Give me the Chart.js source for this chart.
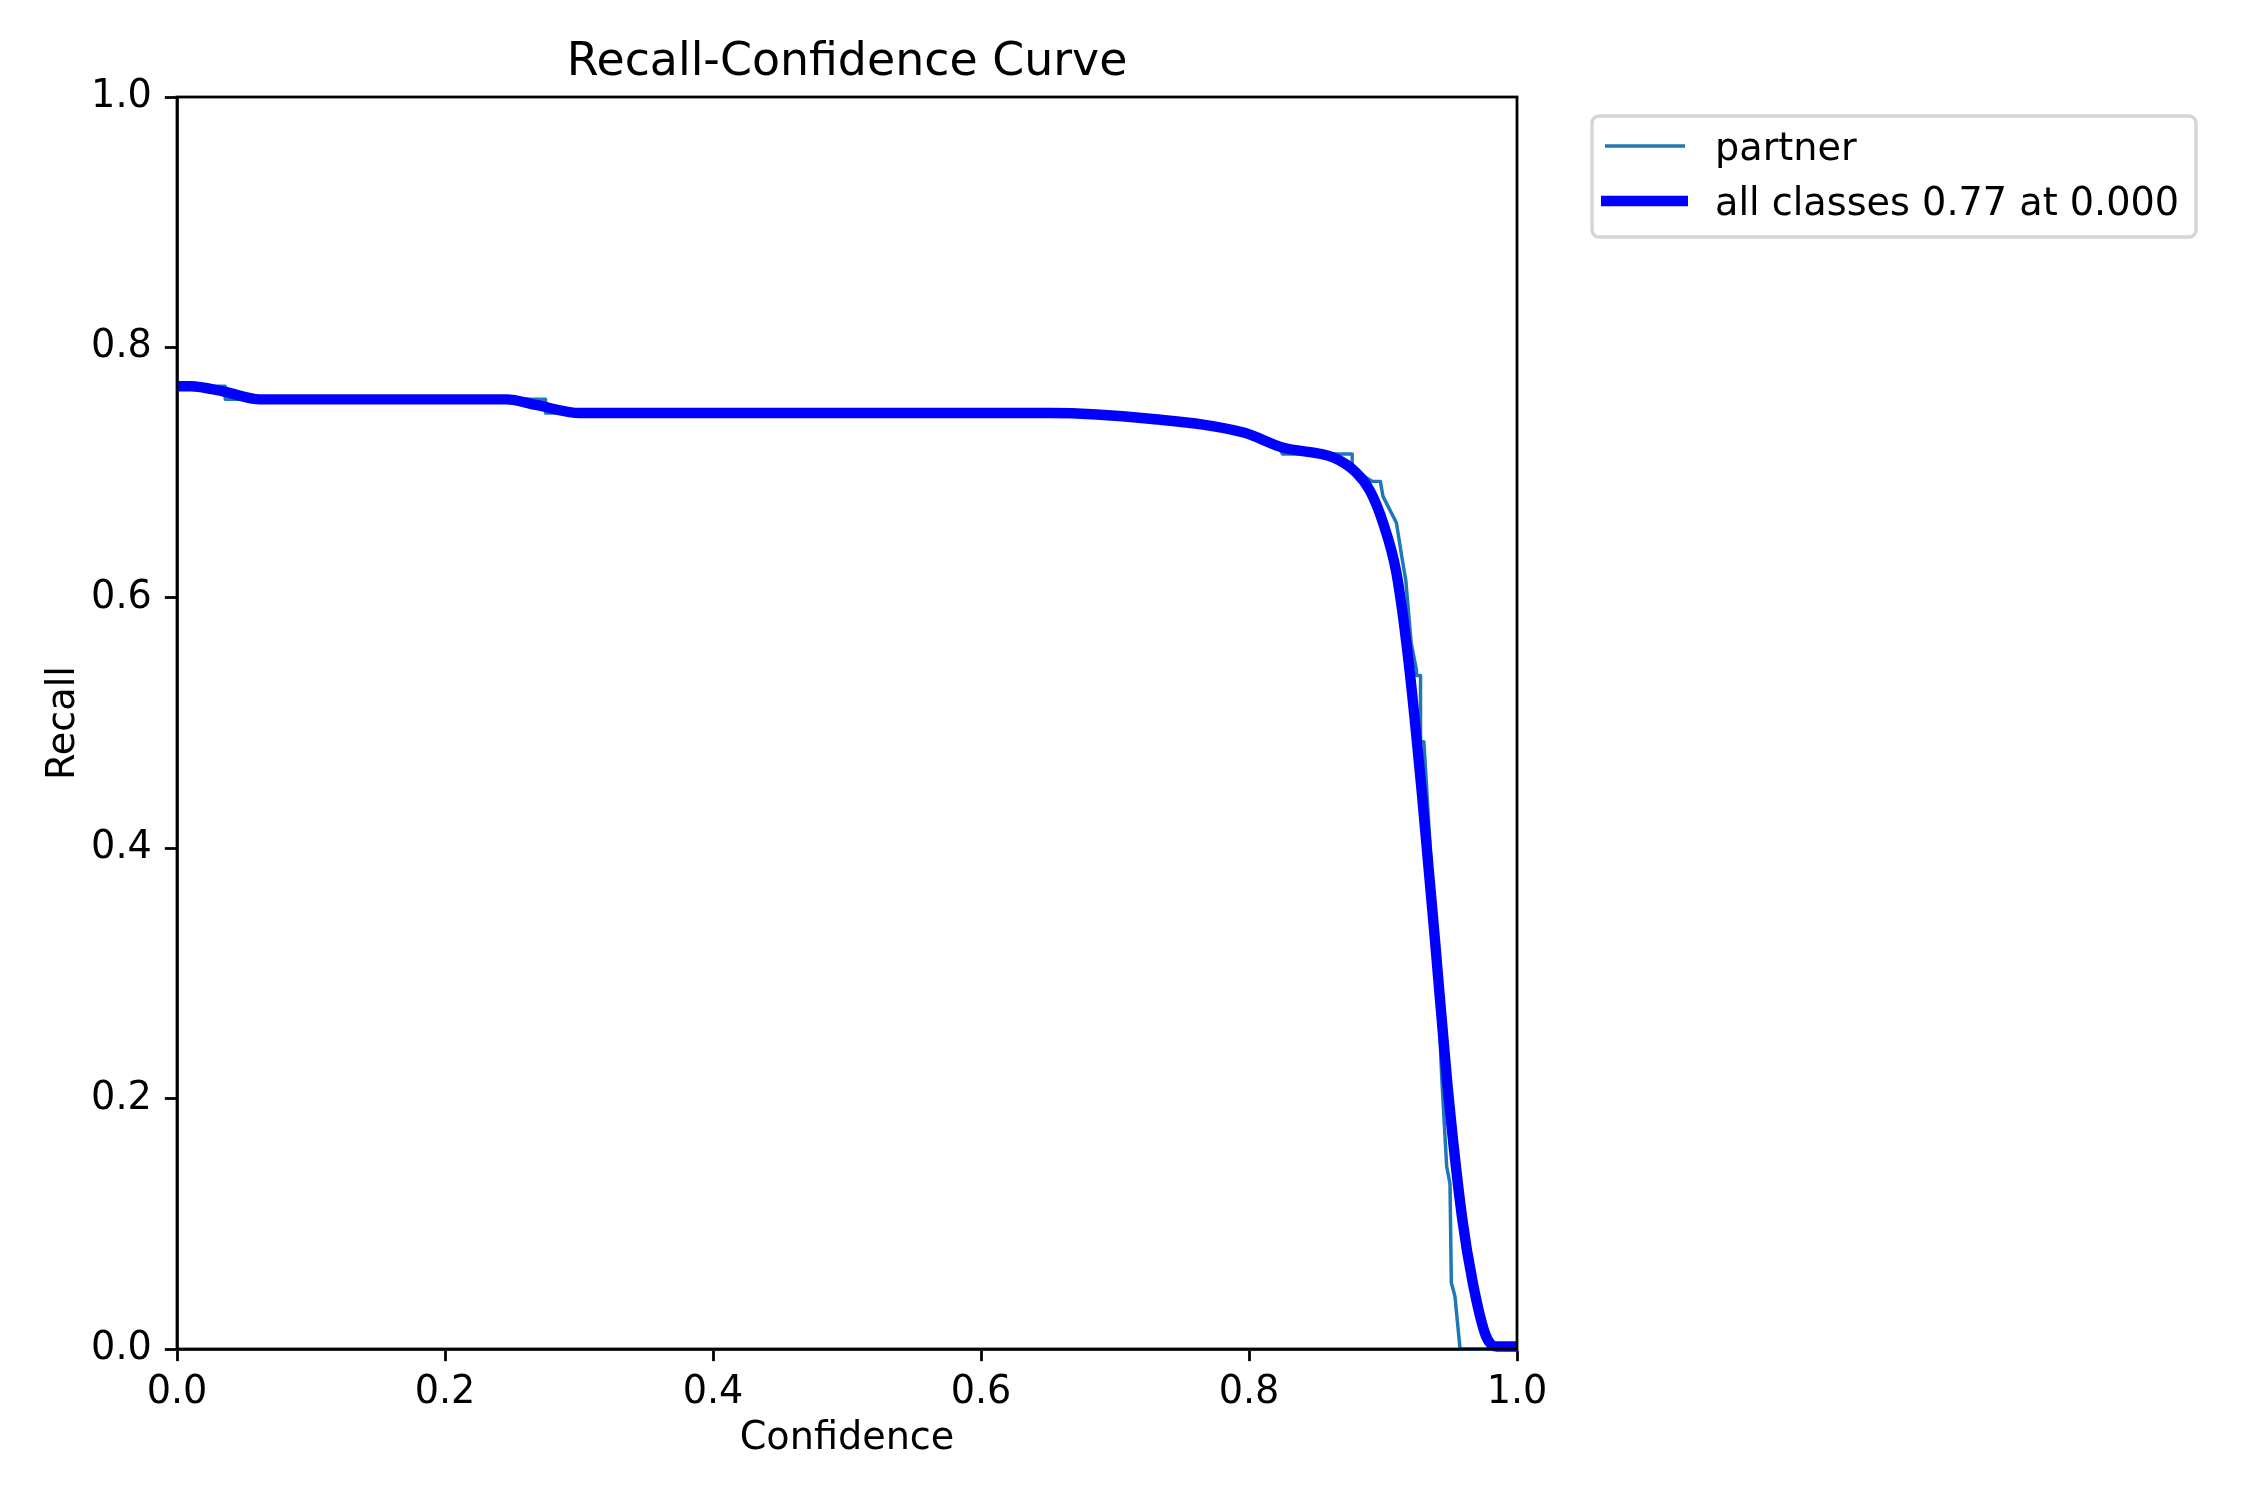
<!DOCTYPE html>
<html>
<head>
<meta charset="utf-8">
<title>Recall-Confidence Curve</title>
<script src="https://cdn.jsdelivr.net/npm/chart.js@4.4.1/dist/chart.umd.min.js"></script>
<style>
  html, body { margin: 0; padding: 0; background: #ffffff; }
  #wrap { width: 2250px; height: 1500px; }
</style>
</head>
<body>
<div id="wrap"><canvas id="rc-chart" width="2250" height="1500"></canvas></div>
<script>
// values
const ticks = [0.0, 0.2, 0.4, 0.6, 0.8, 1.0];

const partnerConf   = [0, 0.036, 0.036, 0.275, 0.275, 0.651, 0.726, 0.796, 0.822, 0.825, 0.877, 0.877, 0.892, 0.898, 0.900, 0.910, 0.914, 0.917, 0.921, 0.925, 0.925, 0.928, 0.928, 0.9305, 0.935, 0.940, 0.9438, 0.9475, 0.950, 0.951, 0.9537, 0.9575, 1.0];
const partnerRecall = [0.769, 0.769, 0.7585, 0.7585, 0.7476, 0.7476, 0.743, 0.732, 0.721, 0.7148, 0.7148, 0.703, 0.693, 0.693, 0.681, 0.660, 0.633, 0.614, 0.564, 0.542, 0.538, 0.538, 0.485, 0.485, 0.404, 0.31, 0.2175, 0.146, 0.132, 0.053, 0.042, 0.0, 0.0];

const allConf   = [0, 0.010, 0.035, 0.062, 0.246, 0.268, 0.301, 0.651, 0.726, 0.796, 0.825, 0.863, 0.880, 0.890, 0.900, 0.910, 0.919, 0.929, 0.939, 0.948, 0.959, 0.967, 0.977, 0.985, 1.0];
const allRecall = [0.769, 0.769, 0.7647, 0.7585, 0.7585, 0.754, 0.7476, 0.7476, 0.743, 0.732, 0.720, 0.712, 0.700, 0.686, 0.660, 0.620, 0.550, 0.444, 0.324, 0.212, 0.105, 0.053, 0.010, 0.002, 0.002];

const seriesNames = ['partner', 'all classes 0.77 at 0.000'];

function toPoints(xs, ys) {
    return xs.map((x, i) => ({ x: x, y: ys[i] }));
}

Chart.defaults.font.family = "'DejaVu Sans', sans-serif";
Chart.defaults.color = '#000000';

const PT = 250 / 72;          // one point in pixels at this size
const FS = 11 * PT;           // 11pt text
const TITLE_FS = 13.2 * PT;   // 'large'

// box around the plot, drawn over the lines like matplotlib spines
const framePlugin = {
    id: 'frame',
    afterDatasetsDraw(chart) {
        const { ctx, chartArea: a } = chart;
        ctx.save();
        ctx.strokeStyle = '#000000';
        ctx.lineWidth = 0.8 * PT;
        ctx.strokeRect(a.left, a.top, a.right - a.left, a.bottom - a.top);
        ctx.restore();
    }
};

// legend outside the axes, top right
const legendPlugin = {
    id: 'sideLegend',
    afterDraw(chart) {
        const ctx = chart.ctx;
        const ds = chart.data.datasets;
        const x0 = 1592, y0 = 116, w = 604, h = 121, r = 7;
        ctx.save();
        ctx.beginPath();
        ctx.roundRect(x0, y0, w, h, r);
        ctx.fillStyle = 'rgba(255,255,255,0.8)';
        ctx.fill();
        ctx.strokeStyle = '#d6d6d6';
        ctx.lineWidth = PT;
        ctx.stroke();

        const rows = [146, 201];
        const baselines = [160, 215];
        const spans = [[1605, 1685], [1601, 1688]];
        ds.forEach((d, i) => {
            ctx.beginPath();
            ctx.moveTo(spans[i][0], rows[i]);
            ctx.lineTo(spans[i][1], rows[i]);
            ctx.strokeStyle = d.borderColor;
            ctx.lineWidth = d.borderWidth;
            ctx.lineCap = 'butt';
            ctx.stroke();
            ctx.fillStyle = '#000000';
            ctx.font = FS + "px 'DejaVu Sans'";
            ctx.textBaseline = 'alphabetic';
            ctx.textAlign = 'left';
            ctx.fillText(d.label, 1715, baselines[i]);
        });
        ctx.restore();
    }
};

const axisCommon = {
    type: 'linear',
    min: 0,
    max: 1,
    grid: {
        display: true,
        drawOnChartArea: false,
        drawTicks: true,
        tickLength: 3.5 * PT,
        tickWidth: 0.8 * PT,
        tickColor: '#000000'
    },
    border: { display: true, color: '#000000', width: 0.8 * PT },
    ticks: {
        stepSize: 0.2,
        font: { size: FS },
        color: '#000000',
        callback: v => Number(v).toFixed(1)
    }
};

const rcChart = new Chart(document.getElementById('rc-chart'), {
    type: 'line',
    data: {
        datasets: [
            {
                label: seriesNames[0],
                data: toPoints(partnerConf, partnerRecall),
                borderColor: '#1f77b4',
                borderWidth: 1 * PT,
                pointRadius: 0,
                tension: 0,
                borderJoinStyle: 'round',
                clip: false,
                order: 2
            },
            {
                label: seriesNames[1],
                data: toPoints(allConf, allRecall),
                borderColor: '#0000ff',
                borderWidth: 3 * PT,
                pointRadius: 0,
                cubicInterpolationMode: 'monotone',
                borderJoinStyle: 'round',
                clip: false,
                order: 1
            }
        ]
    },
    options: {
        responsive: false,
        devicePixelRatio: 1,
        animation: false,
        events: [],
        layout: { padding: { left: 0, top: 0, right: 733, bottom: 0 } },
        scales: {
            x: Object.assign({}, axisCommon, {
                position: 'bottom',
                ticks: Object.assign({}, axisCommon.ticks, { padding: 9 }),
                title: {
                    display: true,
                    text: 'Confidence',
                    font: { size: FS },
                    color: '#000000',
                    padding: { top: 0, bottom: 38 }
                },
                afterBuildTicks: s => { s.ticks = ticks.map(v => ({ value: v })); },
                afterFit: s => { s.height = 151; }
            }),
            y: Object.assign({}, axisCommon, {
                position: 'left',
                ticks: Object.assign({}, axisCommon.ticks, { padding: 13 }),
                title: {
                    display: true,
                    text: 'Recall',
                    font: { size: FS },
                    color: '#000000',
                    padding: { top: 41, bottom: 0 }
                },
                afterBuildTicks: s => { s.ticks = ticks.map(v => ({ value: v })); },
                afterFit: s => { s.width = 177; }
            })
        },
        plugins: {
            legend: { display: false },
            tooltip: { enabled: false },
            title: {
                display: true,
                text: 'Recall-Confidence Curve',
                fullSize: false,
                color: '#000000',
                font: { size: TITLE_FS, weight: 'normal', lineHeight: 1.2 },
                padding: { top: 35.5, bottom: 6.5 }
            }
        }
    },
    plugins: [framePlugin, legendPlugin]
});
</script>
</body>
</html>
